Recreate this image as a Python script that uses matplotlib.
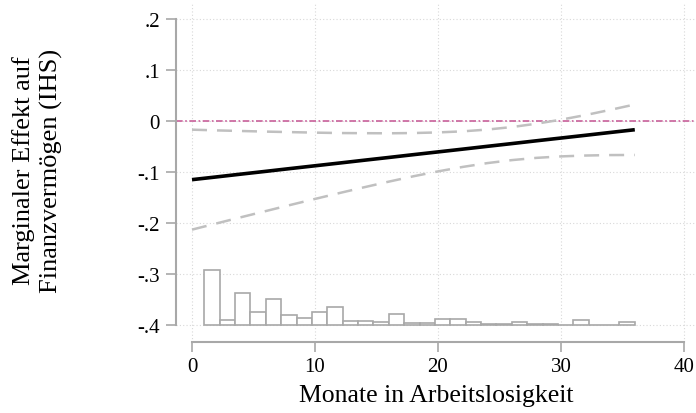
import matplotlib.pyplot as plt
import numpy as np

plt.rcParams['font.family'] = ['Liberation Serif', 'DejaVu Serif']

# marginal effect and 95% CI over months of unemployment
months = [0, 2, 4, 6, 8, 10, 12, 14, 16, 18, 20, 22, 24, 26, 28, 30, 32, 34, 36]
effect = [-0.115, -0.1096, -0.1041, -0.0987, -0.0932, -0.0878, -0.0824, -0.0769, -0.0715, -0.0660,
          -0.0606, -0.0552, -0.0497, -0.0443, -0.0388, -0.0334, -0.0280, -0.0225, -0.0171]
ci_upper = [-0.0170, -0.0184, -0.0196, -0.0208, -0.0218, -0.0228, -0.0236, -0.0239, -0.0241, -0.0236,
            -0.0224, -0.0203, -0.0168, -0.0119, -0.0053, 0.0026, 0.0117, 0.0218, 0.0324]
ci_lower = [-0.2130, -0.2008, -0.1886, -0.1766, -0.1646, -0.1528, -0.1412, -0.1299, -0.1189, -0.1084,
            -0.0988, -0.0901, -0.0826, -0.0767, -0.0723, -0.0694, -0.0677, -0.0668, -0.0666]

# histogram of months (relative heights, 28 bins from 1 to 36)
hist_heights = [167, 15, 97, 40, 80, 30, 20, 38, 55, 13, 11, 10, 32, 5, 5, 18, 19, 8, 3,
                2, 10, 3, 3, 1, 14, 1, 1, 8]
hist_start, hist_end = 1.0, 36.0

yticks = [0.2, 0.1, 0.0, -0.1, -0.2, -0.3, -0.4]
ytick_labels = ['.2', '.1', '0', '-.1', '-.2', '-.3', '-.4']
xticks = [0, 10, 20, 30, 40]

fig = plt.figure(figsize=(6.96, 4.14), dpi=100)
ax = fig.add_axes([176 / 696, 1 - 343 / 414, 520 / 696, 338 / 414])

gray = '#a8a8a8'
ax.set_xlim(-16 / 12.3, 504 / 12.3)
ax.set_ylim(-0.4 - 17 / 510, 0.2 + 15 / 510)

# grid
for x in xticks:
    ax.axvline(x, color='#d8d8d8', lw=0.8, ls=(0, (1, 2)), zorder=0)
for y in yticks:
    ax.axhline(y, color='#d8d8d8', lw=0.8, ls=(0, (1, 2)), zorder=0)

# histogram scaled into the bottom of the plot
n_bins = len(hist_heights)
width = (hist_end - hist_start) / n_bins
lefts = hist_start + width * np.arange(n_bins)
scale = 0.108 / max(hist_heights)
ax.bar(lefts, np.array(hist_heights) * scale, width=width, bottom=-0.4, align='edge',
       facecolor='white', edgecolor=gray, lw=1.2, zorder=2)

ax.axhline(0, color='#c8609a', lw=1.2, ls=(0, (4, 1.5, 1, 1.5)), zorder=1)
ax.plot(months, ci_upper, color='#c0c0c0', lw=1.8, ls=(0, (6, 4)), zorder=3)
ax.plot(months, ci_lower, color='#c0c0c0', lw=1.8, ls=(0, (6, 4)), zorder=3)
ax.plot(months, effect, color='black', lw=2.6, zorder=4, solid_capstyle='butt')

for side in ['top', 'right']:
    ax.spines[side].set_visible(False)
ax.spines['left'].set_bounds(-0.4, 0.2)
ax.spines['bottom'].set_bounds(0, 40)
for side in ['left', 'bottom']:
    ax.spines[side].set_color(gray)
    ax.spines[side].set_linewidth(1.5)

ax.set_yticks(yticks)
ax.set_yticklabels(ytick_labels)
ax.set_xticks(xticks)
ax.tick_params(axis='both', colors=gray, labelcolor='black', length=7.5, width=1.2, labelsize=15)
ax.tick_params(axis='y', pad=4)
ax.tick_params(axis='x', pad=3)

ax.set_xlabel('Monate in Arbeitslosigkeit', fontsize=18.5, labelpad=6)
fig.text(0.054, 1 - 171 / 414, 'Marginaler Effekt auf\nFinanzvermögen (IHS)', fontsize=19,
         rotation=90, ha='center', va='center', linespacing=1.3)

fig.savefig('out.png', dpi=100)
